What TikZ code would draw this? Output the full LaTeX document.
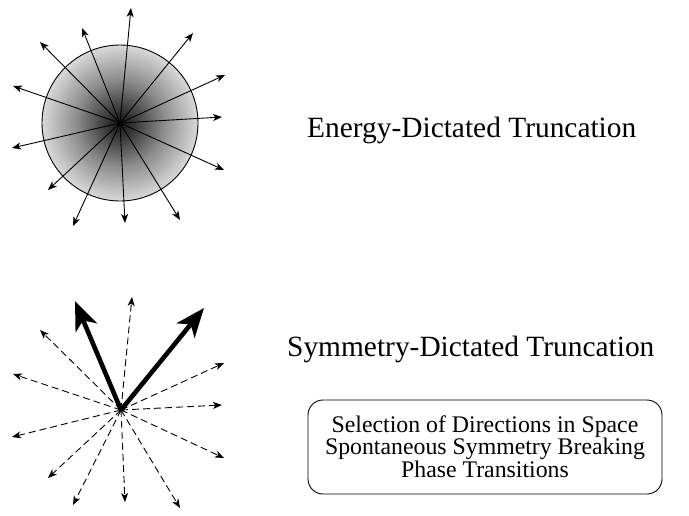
\documentclass[tikz,border=0pt]{standalone}
\usepackage{fontspec}
\setmainfont{Liberation Serif}
\usetikzlibrary{arrows.meta}
\pgfdeclareradialshading{ballshade}{\pgfpoint{0bp}{0bp}}{color(0bp)=(black!92); color(4bp)=(black!80); color(14bp)=(black!45); color(25bp)=(black!15); color(50bp)=(black!15)}
\tikzset{
  ray/.style={line width=0.9pt, -{Stealth[length=9pt,width=7pt,inset=2.5pt]}},
  dray/.style={ray, dash pattern=on 7pt off 4pt},
  bigray/.style={line width=4.6pt, -{Stealth[length=29pt,width=23pt,inset=8pt]}},
  bigtext/.style={font=\fontsize{29.4pt}{33pt}\selectfont, anchor=base west, inner sep=0pt},
  boxtext/.style={font=\fontsize{23.8pt}{26pt}\selectfont, anchor=base, inner sep=0pt},
  panel/.style={draw, line width=0.9pt, rounded corners=15pt, minimum width=354pt, minimum height=94pt, inner sep=0pt}
}
\begin{document}
\begin{tikzpicture}[x=1pt,y=-1pt]
\useasboundingbox (0,0) rectangle (689,515);
% ---- top: energy-dictated ----
\coordinate (c1) at (120,123);
\shade[shading=ballshade] (c1) circle[radius=78];
\draw[line width=0.9pt] (c1) circle[radius=78];
\foreach \x/\y [count=\i] in {131/8, 82/28, 40/42, 13/86, 12/148, 48/190, 73/226, 125/223, 180/220, 224/170, 222/117, 225/75, 193/33}{
  \coordinate (t\i) at (\x,\y);
  \draw[ray] (c1) -- (t\i);
}
\node[bigtext] (energy) at (307,137) {Energy-Dictated Truncation};
% ---- bottom: symmetry-dictated ----
\coordinate (c2) at (121,410);
\foreach \x/\y [count=\i] in {132/297, 40/330, 13/374, 12/437, 48/478, 73/505, 125/502, 180/508, 224/458, 222/405, 224/363}{
  \coordinate (b\i) at (\x,\y);
  \draw[dray] (c2) -- (b\i);
}
\coordinate (bl) at (75,301);
\coordinate (br) at (204,308);
\draw[bigray] (c2) -- (bl);
\draw[bigray] (c2) -- (br);
\node[bigtext] (symm) at (287,356) {Symmetry-Dictated Truncation};
\node[panel] (box) at (485,447) {};
\node[boxtext] (l1) at (485,432) {Selection of Directions in Space};
\node[boxtext] (l2) at (485,454) {Spontaneous Symmetry Breaking};
\node[boxtext] (l3) at (485,477) {Phase Transitions};
\end{tikzpicture}
\end{document}
